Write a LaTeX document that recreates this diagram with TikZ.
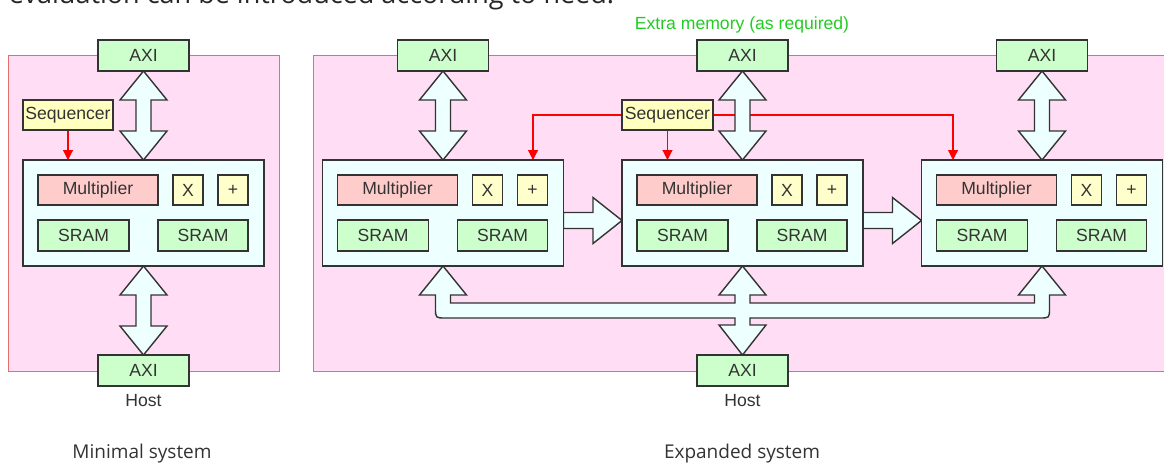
\documentclass[tikz,border=0pt]{standalone}
\usepackage{fontspec}
\setmainfont{Liberation Sans}
\newfontfamily\captionfont{Open Sans}
\usetikzlibrary{calc,arrows.meta}
\pgfdeclarelayer{back}
\pgfdeclarelayer{links}
\pgfsetlayers{back,links,main}

\definecolor{panelpink}{RGB}{255,221,245}
\definecolor{panelline}{RGB}{224,112,112}
\definecolor{boxline}{RGB}{51,51,51}
\definecolor{cyanfill}{RGB}{238,255,255}
\definecolor{greenfill}{RGB}{204,255,204}
\definecolor{redfill}{RGB}{255,204,204}
\definecolor{yellowfill}{RGB}{255,255,204}
\definecolor{seqfill}{RGB}{255,255,192}
\definecolor{labelgreen}{RGB}{34,204,34}
\definecolor{textgray}{RGB}{51,51,51}

% vertical double-headed block arrow between two anchors (#1 above #2)
\newcommand\updown[2]{%
  \path[bigarrow] let \p1=(#1), \p2=(#2) in
    (\x1,\y1) -- (\x1+23.5pt,\y1-29pt) -- (\x1+7.5pt,\y1-29pt)
    -- (\x1+7.5pt,\y2+29pt) -- (\x1+23.5pt,\y2+29pt) -- (\x1,\y2)
    -- (\x1-23.5pt,\y2+29pt) -- (\x1-7.5pt,\y2+29pt)
    -- (\x1-7.5pt,\y1-29pt) -- (\x1-23.5pt,\y1-29pt) -- cycle;}

% horizontal block arrow from one core to the next
\newcommand\rightblock[2]{%
  \path[bigarrow] let \p1=(#1), \p2=(#2) in
    (\x1,\y1-7.5pt+8pt) -- (\x2-29pt,\y1-7.5pt+8pt) -- (\x2-29pt,\y1-7.5pt+23pt)
    -- (\x2,\y1-7.5pt) -- (\x2-29pt,\y1-7.5pt-23pt) -- (\x2-29pt,\y1-7.5pt-8pt)
    -- (\x1,\y1-7.5pt-8pt) -- cycle;}

\begin{document}
\begin{tikzpicture}[x=1pt,y=-1pt,
  every node/.style={inner sep=0pt, outer sep=0pt,
    font=\fontsize{17.6}{20}\selectfont, text=textgray},
  box/.style={draw=boxline, line width=1.4pt, rectangle},
  axi/.style={box, fill=greenfill, minimum width=91pt, minimum height=31pt},
  sram/.style={box, fill=greenfill, minimum width=91pt, minimum height=31pt},
  mult/.style={box, fill=redfill, minimum width=120pt, minimum height=30pt},
  op/.style={box, fill=yellowfill, minimum width=30pt, minimum height=30pt},
  seq/.style={box, fill=seqfill, minimum width=91pt, minimum height=30pt},
  core/.style={box, fill=cyanfill, minimum width=241pt, minimum height=106pt},
  panel/.style={draw=panelline, line width=1pt, fill=panelpink, rectangle},
  bigarrow/.style={draw=boxline, line width=1.4pt, fill=cyanfill, line join=miter},
  ctrl/.style={draw=red, line width=1.1pt, -{Triangle[length=10pt,width=10pt]}},
  caption/.style={font=\captionfont\fontsize{19}{22}\selectfont, text=textgray}
]
\useasboundingbox (0,0) rectangle (1164,464);
\clip (0,0) rectangle (1164,464);

% running text above the figure
\node[anchor=base west, font=\captionfont\fontsize{27}{30}\selectfont, text=black!85]
  (intro) at (9,3.6) {evaluation can be introduced according to need.};

% system panels
\begin{pgfonlayer}{back}
  \node[panel, anchor=north west, minimum width=271pt, minimum height=316pt]
    (minpanel) at (8,55) {};
  \node[panel, anchor=north west, minimum width=870pt, minimum height=316pt]
    (exppanel) at (313,55) {};
\end{pgfonlayer}

% processing cores with their units, and the AXI ports above them
\foreach \i/\cx in {0/143.5,1/443,2/742.5,3/1042}{
  \node[core] (core\i) at (\cx,213) {};
  \node[mult] (mul\i) at ($(core\i)+(-45.5,-23)$) {Multiplier};
  \node[op]   (x\i)   at ($(core\i)+(44.5,-23)$) {X};
  \node[op]   (p\i)   at ($(core\i)+(89.5,-23)$) {+};
  \node[sram] (sa\i)  at ($(core\i)+(-60,22.5)$) {SRAM};
  \node[sram, minimum width=90pt] (sb\i) at ($(core\i)+(59.5,22.5)$) {SRAM};
  \node[axi]  (axiT\i) at (\cx,55.5) {AXI};
}

% host-side AXI ports
\node[axi] (axiB0) at (143.5,370.5) {AXI};
\node[axi] (axiB2) at (742.5,370.5) {AXI};
\node (host0) at (143.5,400.5) {Host};
\node (host2) at (742.5,400.5) {Host};

% sequencers
\node[seq, minimum width=90pt] (seq0) at (68,115) {Sequencer};
\node[seq] (seq1) at (667.5,115) {Sequencer};

% labels
\node[text=labelgreen] (extra) at (742,25) {Extra memory (as required)};
\node[caption] (capmin) at (142,454) {Minimal system};
\node[caption] (capexp) at (742,454) {Expanded system};

\begin{pgfonlayer}{links}
  % sequencer control lines
  \draw[ctrl] (seq0.south) -- (seq0.south |- core0.north);
  \draw[ctrl] (seq1.south) -- (seq1.south |- core2.north);
  \draw[ctrl] (seq1.west) -| ($(core1.north)+(90,0)$);
  \draw[ctrl] (seq1.east) -| ($(core3.north)+(-89,0)$);

  % AXI links
  \updown{axiT0.south}{core0.north}
  \updown{axiT1.south}{core1.north}
  \updown{axiT2.south}{core2.north}
  \updown{axiT3.south}{core3.north}
  \updown{core0.south}{axiB0.north}

  % core-to-core chaining
  \rightblock{core1.east}{core2.west}
  \rightblock{core2.east}{core3.west}

  % shared host bus
  \path[bigarrow] let \p1=(core1.south), \p2=(core2.south),
                      \p3=(core3.south), \p4=(axiB2.north) in
    (\x1,\y1) -- (\x1+23.5pt,\y1-29pt) -- (\x1+7.5pt,\y1-29pt)
    -- (\x1+7.5pt,\y1-37pt) -- (\x2-7.5pt,\y1-37pt) -- (\x2-7.5pt,\y1-29pt)
    -- (\x2-23.5pt,\y1-29pt) -- (\x2,\y2) -- (\x2+23.5pt,\y1-29pt)
    -- (\x2+7.5pt,\y1-29pt) -- (\x2+7.5pt,\y1-37pt) -- (\x3-7.5pt,\y1-37pt)
    -- (\x3-7.5pt,\y1-29pt) -- (\x3-23.5pt,\y1-29pt) -- (\x3,\y3)
    -- (\x3+23.5pt,\y1-29pt) -- (\x3+7.5pt,\y1-29pt) -- (\x3+7.5pt,\y1-42pt)
    .. controls (\x3+7.5pt,\y1-52pt) .. (\x3-2.5pt,\y1-52pt)
    -- (\x2+7.5pt,\y1-52pt) -- (\x2+7.5pt,\y4+30pt) -- (\x2+23.5pt,\y4+30pt)
    -- (\x2,\y4) -- (\x2-23.5pt,\y4+30pt) -- (\x2-7.5pt,\y4+30pt)
    -- (\x2-7.5pt,\y1-52pt) -- (\x1+2.5pt,\y1-52pt)
    .. controls (\x1-7.5pt,\y1-52pt) .. (\x1-7.5pt,\y1-42pt)
    -- (\x1-7.5pt,\y1-29pt) -- (\x1-23.5pt,\y1-29pt) -- cycle;
\end{pgfonlayer}
\end{tikzpicture}
\end{document}
